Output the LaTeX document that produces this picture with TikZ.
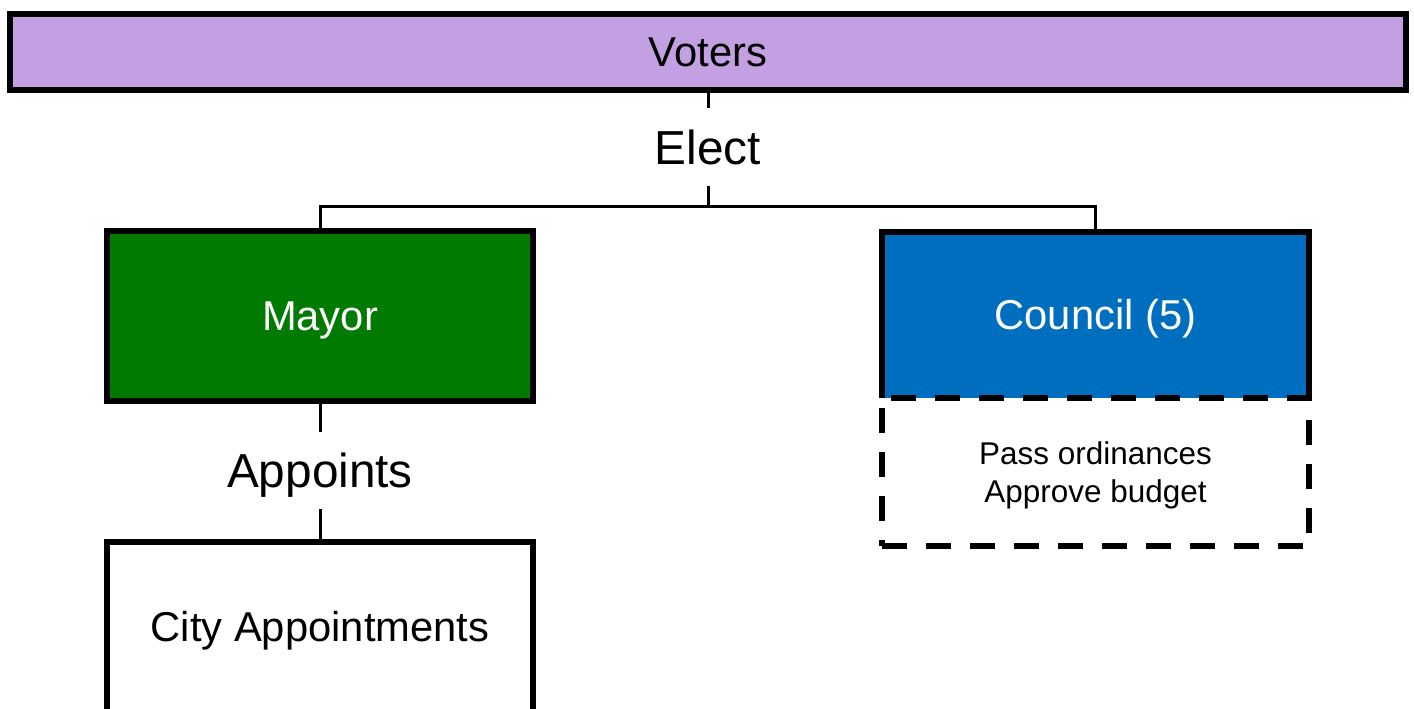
\documentclass[tikz,border=0pt]{standalone}
\usepackage{fontspec}
\setmainfont{Liberation Sans}
\definecolor{voterpurple}{RGB}{195,160,226}
\definecolor{mayorgreen}{RGB}{0,122,0}
\definecolor{councilblue}{RGB}{0,110,190}
\begin{document}
\begin{tikzpicture}[x=0.75pt,y=-0.75pt,
  box/.style={draw=black,line width=4.5pt,inner sep=0pt,outer sep=0pt,
    font=\fontsize{31.3}{36}\selectfont,text height=22.4pt,text depth=0pt},
  dutybox/.style={draw=black,line width=4.5pt,dash pattern=on 18.75pt off 14.25pt,
    inner sep=0pt,outer sep=0pt,align=center,
    font=\fontsize{23.6}{28.5}\selectfont,text depth=0pt},
  conn/.style={draw=black,line width=2.25pt},
  lbl/.style={font=\fontsize{35.8}{42}\selectfont,text height=25.6pt,text depth=0pt,
    inner xsep=2pt,inner ysep=16.3pt,outer sep=0pt}]
\useasboundingbox (0,0) rectangle (1414,708);
\clip (0,0) rectangle (1414,708);
\node[box,fill=voterpurple,minimum width=1047pt,minimum height=57pt] (voters) at (708,52) {Voters};
\node[lbl] (elect) at (708,147) {Elect};
\coordinate (split) at (708,206);
\node[box,fill=mayorgreen,text=white,minimum width=319.5pt,minimum height=127.5pt] (mayor) at (320,316) {Mayor};
\node[box,draw=none,fill=councilblue,text=white,minimum width=320.25pt,minimum height=124.5pt] (council) at (1095.5,315) {Council (5)};
\draw[line width=4.5pt] (council.south west) |- (council.north east) -- (council.south east);
\node[dutybox,minimum width=320.25pt,minimum height=111pt] (duties) at (1095.5,472) {Pass ordinances\\Approve budget};
\node[lbl] (appoints) at (320,470.5) {Appoints};
\node[box,fill=white,minimum width=319.5pt,minimum height=127.5pt] (city) at (320,627) {City Appointments};
\draw[conn] (voters.south) -- (elect.north);
\draw[conn] (elect.south) -- (split);
\draw[conn] (mayor.north) |- (split) -| (council.north);
\draw[conn] (mayor.south) -- (appoints.north);
\draw[conn] (appoints.south) -- (city.north);
\end{tikzpicture}
\end{document}
